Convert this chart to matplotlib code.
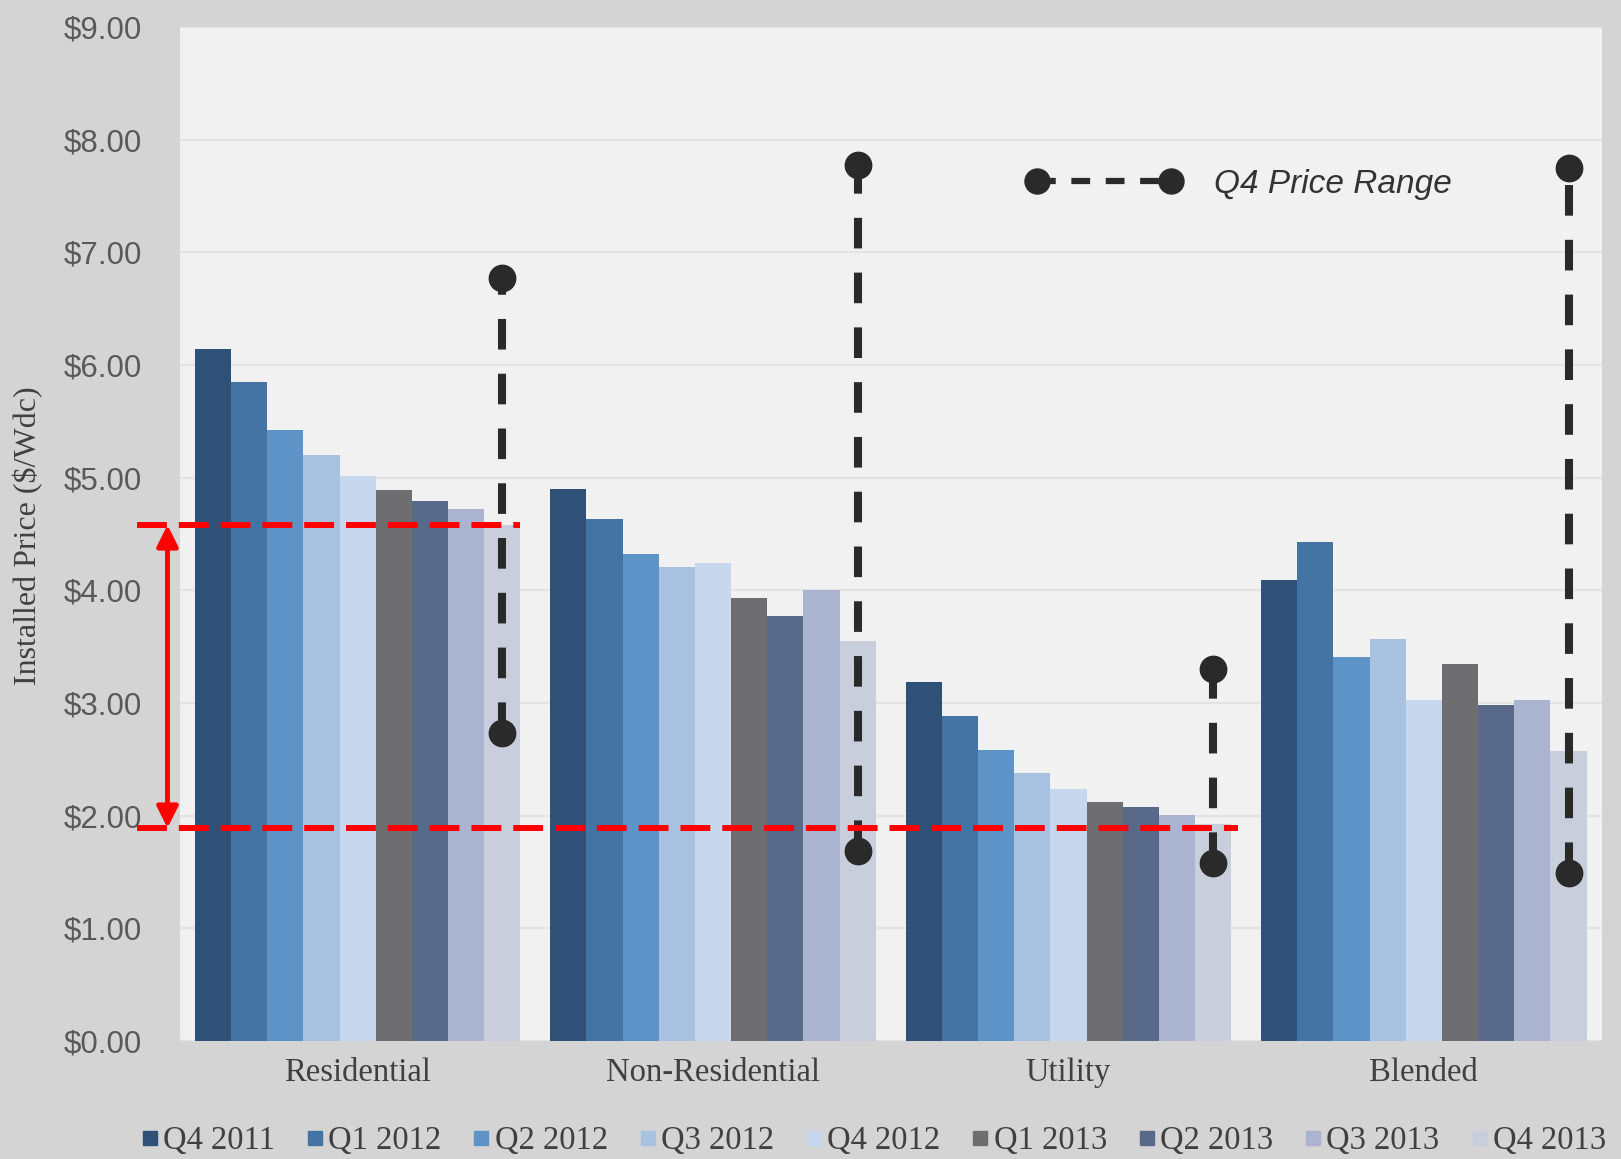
import matplotlib
matplotlib.use('Agg')
import numpy as np
import matplotlib.pyplot as plt
from matplotlib.lines import Line2D

categories = ['Residential', 'Non-Residential', 'Utility', 'Blended']
quarters = ['Q4 2011', 'Q1 2012', 'Q2 2012', 'Q3 2012', 'Q4 2012',
            'Q1 2013', 'Q2 2013', 'Q3 2013', 'Q4 2013']

# installed price ($/Wdc) per quarter, one value per category
q4_2011 = [6.14, 4.90, 3.19, 4.09]
q1_2012 = [5.85, 4.63, 2.88, 4.43]
q2_2012 = [5.42, 4.32, 2.58, 3.41]
q3_2012 = [5.20, 4.21, 2.38, 3.57]
q4_2012 = [5.01, 4.24, 2.24, 3.03]
q1_2013 = [4.89, 3.93, 2.12, 3.35]
q2_2013 = [4.79, 3.77, 2.08, 2.98]
q3_2013 = [4.72, 4.00, 2.01, 3.03]
q4_2013 = [4.58, 3.55, 1.93, 2.57]

# Q4 price range (low / high) per category
range_low = [2.73, 1.69, 1.58, 1.49]
range_high = [6.77, 7.77, 3.30, 7.75]

# red highlighted band
band_low = 1.89
band_high = 4.58

y_ticks = [0, 1, 2, 3, 4, 5, 6, 7, 8, 9]

bar_colors = ['#2f5077', '#4474a3', '#5e93c8', '#a8c1e0', '#c7d8ee',
              '#6e6e70', '#58698a', '#aab4d0', '#c9cedd']

SERIF = 'Liberation Serif'
SANS = 'Liberation Sans'

series = [q4_2011, q1_2012, q2_2012, q3_2012, q4_2012,
          q1_2013, q2_2013, q3_2013, q4_2013]

fig = plt.figure(figsize=(16.21, 11.59), dpi=100, facecolor='#d4d4d4')
ax = fig.add_axes([0.111, 0.1018, 0.877, 0.875])
ax.set_facecolor('#f1f1f1')

x = np.arange(len(categories))
n = len(series)
w = 0.916 / n

for i, (vals, col) in enumerate(zip(series, bar_colors)):
    ax.bar(x + (i - (n - 1) / 2) * w, vals, w, color=col, linewidth=0, zorder=2)

# Q4 price range whiskers, centred on the Q4 2013 bar
x_rng = x + (n - 1) / 2 * w
for xc, lo, hi in zip(x_rng, range_low, range_high):
    ax.plot([xc, xc], [lo, hi], color='#2a2a2a', lw=5.8, dashes=(3.8, 3.0),
            marker='o', ms=19, zorder=4, solid_capstyle='butt')

# red band annotation
ax.plot([-0.62, 0.456], [band_high, band_high], color='red', lw=4.3,
        dashes=(5, 2), clip_on=False, zorder=6)
ax.plot([-0.62, 2.478], [band_low, band_low], color='red', lw=4.3,
        dashes=(5, 2), clip_on=False, zorder=6)
ax.annotate('', xy=(-0.535, band_high), xytext=(-0.535, band_low),
            arrowprops=dict(arrowstyle='<|-|>', color='red', lw=3.5,
                            mutation_scale=32, shrinkA=0, shrinkB=0),
            annotation_clip=False, zorder=6)

ax.set_xlim(-0.5, 3.5)
ax.set_ylim(0, 9)
ax.set_yticks(y_ticks)
ax.set_yticklabels([f'${v:.2f}' for v in y_ticks], fontfamily=SANS,
                   fontsize=22.5, color='#595959')
ax.set_xticks(x)
ax.set_xticklabels(categories, fontfamily=SERIF, fontsize=23.5, color='#404040')
ax.tick_params(axis='y', length=0, pad=27)
ax.tick_params(axis='x', length=0, pad=12)
ax.yaxis.grid(True, color='#e3e3e3', lw=1.5)
ax.set_axisbelow(True)
for s in ax.spines.values():
    s.set_visible(False)

fig.text(0.0173, 0.5375, 'Installed Price ($/Wdc)', rotation=90,
         ha='center', va='center', fontfamily=SERIF, fontsize=23, color='#404040')

# in-plot legend for the price range
rng_handle = Line2D([], [], color='#2a2a2a', lw=4.5, dashes=(3, 2.5),
                    marker='o', ms=18)
ax.legend([rng_handle], ['Q4 Price Range'], loc='center left',
          bbox_to_anchor=(0.596, 0.845), frameon=False, numpoints=2,
          handlelength=4.6, handletextpad=1.0, borderpad=0, borderaxespad=0,
          prop=dict(family=SANS, style='italic', size=24), labelcolor='#333333')

# bottom legend
handles = [Line2D([], [], ls='none', marker='s', ms=9.5, mfc=c, mec=c)
           for c in bar_colors]
fig.legend(handles, quarters, loc='center', bbox_to_anchor=(0.539, 0.0155),
           ncol=9, frameon=False, handlelength=0.5, handletextpad=0.15,
           columnspacing=0.98, prop=dict(family=SERIF, size=23.5),
           labelcolor='#404040')

fig.savefig('out.png', dpi=100, facecolor=fig.get_facecolor())
